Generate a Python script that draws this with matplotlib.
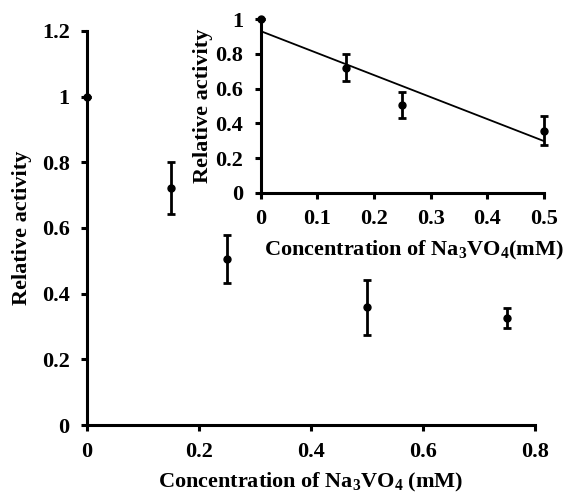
import numpy as np
import matplotlib
matplotlib.use("Agg")
import matplotlib.pyplot as plt

# Inhibition of enzyme activity by sodium orthovanadate
conc = [0.0, 0.15, 0.25, 0.5, 0.75]
activity = [1.0, 0.722, 0.506, 0.358, 0.325]
err = [0.0, 0.078, 0.073, 0.085, 0.030]

# Linear range used for the inset
inset_conc = conc[:4]
inset_activity = activity[:4]
inset_err = err[:4]

main_xticks = [0, 0.2, 0.4, 0.6, 0.8]
main_yticks = [0, 0.2, 0.4, 0.6, 0.8, 1.0, 1.2]
inset_xticks = [0, 0.1, 0.2, 0.3, 0.4, 0.5]
inset_yticks = [0, 0.2, 0.4, 0.6, 0.8, 1.0]

plt.rcParams["font.family"] = ["Liberation Serif", "DejaVu Serif"]
plt.rcParams["font.weight"] = "bold"
plt.rcParams["mathtext.fontset"] = "custom"
plt.rcParams["mathtext.rm"] = "Liberation Serif:bold"
plt.rcParams["mathtext.it"] = "Liberation Serif:bold"
plt.rcParams["mathtext.bf"] = "Liberation Serif:bold"
plt.rcParams["mathtext.default"] = "rm"

FS = 16


def fmt(v):
    if v == 0:
        return "0"
    if v == 1:
        return "1"
    return f"{v:g}"


def style(ax, xt, yt, xpad, ypad):
    for s in ("top", "right"):
        ax.spines[s].set_visible(False)
    for s in ("left", "bottom"):
        ax.spines[s].set_linewidth(2.2)
    ax.set_xticks(xt)
    ax.set_yticks(yt)
    ax.set_xticklabels([fmt(v) for v in xt], fontsize=FS, fontweight="bold")
    ax.set_yticklabels([fmt(v) for v in yt], fontsize=FS, fontweight="bold")
    ax.tick_params(direction="out", length=4.5, width=2.2)
    ax.tick_params(axis="x", pad=xpad)
    ax.tick_params(axis="y", pad=ypad)


fig = plt.figure(figsize=(5.66, 4.95), dpi=100)

ax = fig.add_axes([0.1537, 0.1414, 0.7915, 0.796])
ax.errorbar(conc, activity, yerr=err, fmt="o", color="black", ms=5,
            elinewidth=2, capsize=2.6, capthick=2, clip_on=False, zorder=3)
ax.set_xlim(0, 0.8)
ax.set_ylim(0, 1.2)
style(ax, main_xticks, main_yticks, 7.5, 8)
ax.set_xlabel("Concentration of Na$_3$VO$_4$ (mM)", fontsize=FS,
              fontweight="bold", labelpad=6.5)
ax.set_ylabel("Relative activity", fontsize=FS, fontweight="bold", labelpad=7)

ins = fig.add_axes([0.4606, 0.6107, 0.5005, 0.3503])
ins.patch.set_alpha(0)
ins.errorbar(inset_conc, inset_activity, yerr=inset_err, fmt="o", color="black",
             ms=5, elinewidth=2, capsize=2.6, capthick=2, clip_on=False, zorder=3)
slope, intercept = np.polyfit(inset_conc, inset_activity, 1)
xs = np.array([0.0, 0.5])
ins.plot(xs, slope * xs + intercept, color="black", lw=1.3)
ins.set_xlim(0, 0.5)
ins.set_ylim(0, 1.0)
style(ins, inset_xticks, inset_yticks, 7, 8)
ins.set_xlabel("Concentration of Na$_3$VO$_4$(mM)", fontsize=FS,
               fontweight="bold")
ins.xaxis.set_label_coords(0.54, -0.265)
ins.set_ylabel("Relative activity", fontsize=FS, fontweight="bold", labelpad=2)

fig.savefig("out.png", dpi=100)
